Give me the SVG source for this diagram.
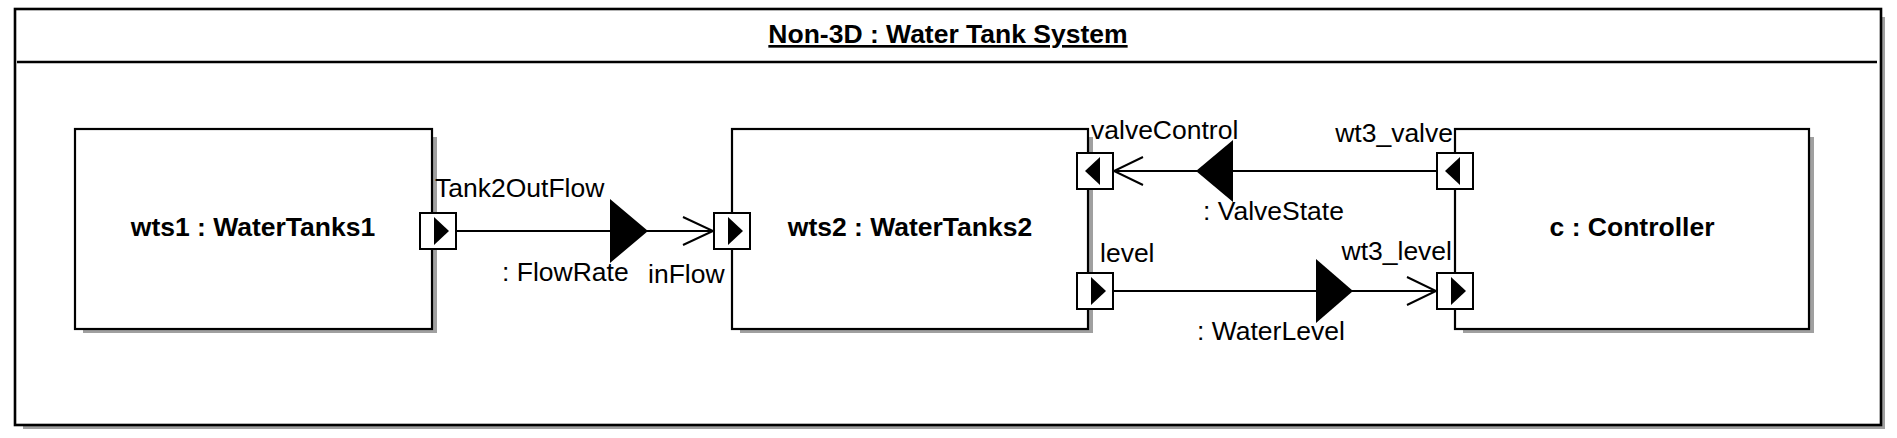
<svg xmlns="http://www.w3.org/2000/svg" width="1897" height="438" viewBox="0 0 1897 438">
<style>
.frame{fill:none;stroke:#000;stroke-width:2.6}
.shadow{fill:#a0a0a0;stroke:none}
.box{fill:#fff;stroke:#000;stroke-width:2.2}
.port{fill:#fff;stroke:#000;stroke-width:2}
.tri{fill:#000;stroke:none}
.line{fill:none;stroke:#000;stroke-width:2}
.flow{fill:#000;stroke:none}
.open{fill:none;stroke:#000;stroke-width:2}
.lbl{font-family:"Liberation Sans",Arial,sans-serif;font-size:26.5px;fill:#000}
.name{font-family:"Liberation Sans",Arial,sans-serif;font-size:26.5px;font-weight:bold;fill:#000;text-anchor:middle}
</style>
<rect width="1897" height="438" fill="#fff"/>
<g id="frame">
  <rect class="shadow" x="1882" y="17" width="3" height="411"/>
  <rect class="shadow" x="23" y="426" width="1862" height="3"/>
  <rect class="frame" x="15" y="9" width="1866" height="416"/>
  <line x1="17" y1="62" x2="1877" y2="62" stroke="#000" stroke-width="2.6"/>
  <text class="name" x="948" y="43" text-decoration="underline">Non-3D : Water Tank System</text>
</g>
<g id="wts1">
  <rect class="shadow" x="433" y="137" width="4" height="196"/>
  <rect class="shadow" x="83" y="330" width="354" height="3"/>
  <rect class="box" x="75" y="129" width="357" height="200"/>
  <text class="name" x="253" y="236">wts1 : WaterTanks1</text>
  <g id="wts1-Tank2OutFlow">
    <rect class="port" x="420" y="213" width="36" height="36"/>
    <polygon class="tri" points="434,217 449,231 434,245"/>
  </g>
</g>
<g id="wts2">
  <rect class="shadow" x="1089" y="137" width="4" height="196"/>
  <rect class="shadow" x="740" y="330" width="353" height="3"/>
  <rect class="box" x="732" y="129" width="356" height="200"/>
  <text class="name" x="910" y="236">wts2 : WaterTanks2</text>
  <g id="wts2-inFlow">
    <rect class="port" x="714" y="213" width="36" height="36"/>
    <polygon class="tri" points="728,217 743,231 728,245"/>
  </g>
  <g id="wts2-valveControl">
    <rect class="port" x="1077" y="153" width="36" height="36"/>
    <polygon class="tri" points="1085,171 1100,157 1100,185"/>
  </g>
  <g id="wts2-level">
    <rect class="port" x="1077" y="273" width="36" height="36"/>
    <polygon class="tri" points="1091,277 1106,291 1091,305"/>
  </g>
</g>
<g id="c">
  <rect class="shadow" x="1810" y="137" width="4" height="196"/>
  <rect class="shadow" x="1463" y="330" width="351" height="3"/>
  <rect class="box" x="1455" y="129" width="354" height="200"/>
  <text class="name" x="1632" y="236">c : Controller</text>
  <g id="c-wt3_valve">
    <rect class="port" x="1437" y="153" width="36" height="36"/>
    <polygon class="tri" points="1445,171 1460,157 1460,185"/>
  </g>
  <g id="c-wt3_level">
    <rect class="port" x="1437" y="273" width="36" height="36"/>
    <polygon class="tri" points="1451,277 1466,291 1451,305"/>
  </g>
</g>
<g id="connectors">
  <g id="flow-FlowRate">
    <line class="line" x1="457" y1="231" x2="713" y2="231"/>
    <polygon class="flow" points="610,199 648,231 610,263"/>
    <polyline class="open" points="683,217 713,231 683,245"/>
  </g>
  <g id="flow-ValveState">
    <line class="line" x1="1437" y1="171" x2="1114" y2="171"/>
    <polygon class="flow" points="1233,140 1196,171 1233,202"/>
    <polyline class="open" points="1143,157 1114,171 1143,185"/>
  </g>
  <g id="flow-WaterLevel">
    <line class="line" x1="1113" y1="291" x2="1436" y2="291"/>
    <polygon class="flow" points="1316,259 1353,291 1316,323"/>
    <polyline class="open" points="1407,277 1436,291 1407,305"/>
  </g>
</g>
<g id="labels">
  <text class="lbl" x="435" y="197">Tank2OutFlow</text>
  <text class="lbl" x="502" y="281">: FlowRate</text>
  <text class="lbl" x="648" y="283">inFlow</text>
  <text class="lbl" x="1091" y="139">valveControl</text>
  <text class="lbl" x="1453" y="142" text-anchor="end">wt3_valve</text>
  <text class="lbl" x="1203" y="220">: ValveState</text>
  <text class="lbl" x="1100" y="262">level</text>
  <text class="lbl" x="1452" y="260" text-anchor="end">wt3_level</text>
  <text class="lbl" x="1197" y="340">: WaterLevel</text>
</g>
</svg>
